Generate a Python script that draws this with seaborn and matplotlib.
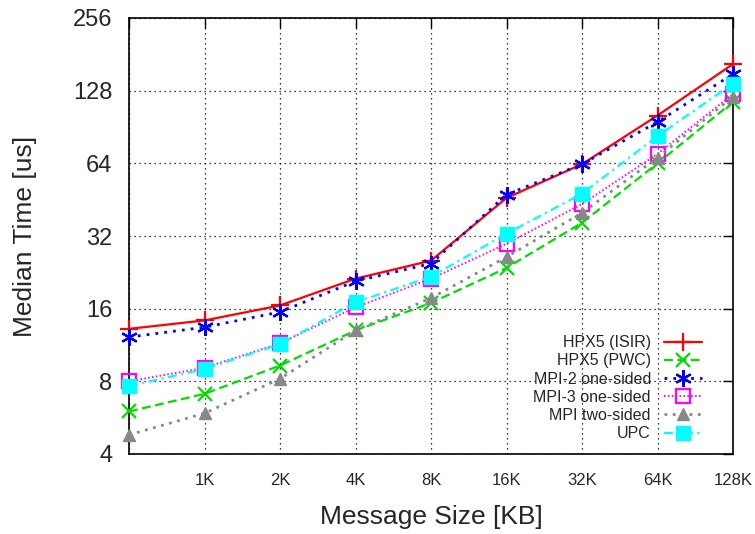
import matplotlib
matplotlib.use("Agg")
import matplotlib.pyplot as plt
import seaborn as sns
import pandas as pd
from matplotlib.ticker import FixedLocator, FixedFormatter, NullLocator

sizes = ["512", "1K", "2K", "4K", "8K", "16K", "32K", "64K", "128K"]
tick_labels = ["", "1K", "2K", "4K", "8K", "16K", "32K", "64K", "128K"]

hpx5_isir = [13.2, 14.3, 16.5, 21.3, 25.3, 46.0, 63.5, 101.0, 165.0]
hpx5_pwc = [6.0, 7.1, 9.3, 13.0, 16.9, 23.6, 36.3, 64.0, 115.0]
mpi2_one = [12.2, 13.4, 15.5, 20.8, 24.6, 47.5, 63.5, 95.0, 150.0]
mpi3_one = [8.0, 9.1, 11.5, 16.2, 21.3, 29.7, 43.4, 70.0, 124.0]
mpi_two = [4.8, 5.9, 8.2, 13.0, 17.7, 26.2, 39.9, 67.6, 121.0]
upc = [7.65, 9.0, 11.4, 17.0, 21.7, 32.7, 47.9, 83.0, 137.0]

series = {
    "HPX5 (ISIR)": hpx5_isir,
    "HPX5 (PWC)": hpx5_pwc,
    "MPI-2 one-sided": mpi2_one,
    "MPI-3 one-sided": mpi3_one,
    "MPI two-sided": mpi_two,
    "UPC": upc,
}

rows = []
for name, vals in series.items():
    for i, v in enumerate(vals):
        rows.append({"pos": i, "size": sizes[i], "time": v, "series": name})
df = pd.DataFrame(rows)

sns.set_theme(style="white")
plt.rcParams["font.family"] = ["Liberation Sans", "DejaVu Sans"]

fig = plt.figure(figsize=(7.55, 5.34), dpi=100)
ax = fig.add_axes([129 / 755, 1 - 454 / 534, (733 - 129) / 755, (454 - 18) / 534])

styles = {
    "HPX5 (ISIR)": dict(color="#ff0000", ls="-", marker="+", ms=13, mfc="none", mew=1.6, lw=1.6),
    "HPX5 (PWC)": dict(color="#00dd00", ls=(0, (4, 2)), marker="x", ms=10, mfc="none", mew=1.6, lw=1.6),
    "MPI-2 one-sided": dict(color="#0000ff", ls=(0, (1, 2.2)), marker=(6, 2, 0), ms=12, mew=1.6, lw=2.0),
    "MPI-3 one-sided": dict(color="#ff00ff", ls=(0, (0.8, 1.2)), marker="s", ms=9.5, mfc="none", mew=1.6, lw=1.4),
    "MPI two-sided": dict(color="#888888", ls=(0, (1, 2)), marker="^", ms=8.5, mfc="#888888", mew=1.0, lw=2.0),
    "UPC": dict(color="#00ffff", ls=(0, (4, 2, 1, 2)), marker="s", ms=9.5, mfc="#00ffff", mew=1.0, lw=1.6),
}

for name in series:
    st = styles[name]
    sub = df[df["series"] == name]
    sns.lineplot(data=sub, x="pos", y="time", ax=ax, label=name,
                 color=st["color"], linestyle=st["ls"], linewidth=st["lw"],
                 marker=st["marker"], markersize=st["ms"],
                 markerfacecolor=st.get("mfc", st["color"]),
                 markeredgecolor=st["color"], markeredgewidth=st["mew"],
                 clip_on=False, zorder=3)

ax.set_yscale("log", base=2)
ax.set_ylim(4, 256)
ax.set_xlim(0, 8)
yt = [4, 8, 16, 32, 64, 128, 256]
ax.yaxis.set_major_locator(FixedLocator(yt))
ax.yaxis.set_major_formatter(FixedFormatter([str(v) for v in yt]))
ax.yaxis.set_minor_locator(NullLocator())
ax.set_xticks(range(len(tick_labels)))
ax.set_xticklabels(tick_labels)

ax.grid(True, which="major", color="black", linestyle=(0, (1, 3)), linewidth=0.9)
for sp in ax.spines.values():
    sp.set_visible(True)
    sp.set_color("black")
    sp.set_linewidth(1.2)

ax.tick_params(axis="both", which="major", direction="in", length=7, width=1,
               top=True, right=True, color="black")
ax.tick_params(axis="y", labelsize=17, pad=12)
ax.tick_params(axis="x", labelsize=12, pad=14)

ax.set_xlabel("Message Size [KB]", fontsize=19)
ax.set_ylabel("Median Time [us]", fontsize=19)
ax.xaxis.set_label_coords(0.5, (454 - 517) / 436)
ax.xaxis.label.set_va("center")
ax.yaxis.set_label_coords((25 - 129) / 604, 0.5)
ax.yaxis.label.set_va("center")

leg = ax.legend(loc="lower right", bbox_to_anchor=(0.97, 0.0), frameon=False,
                markerfirst=False, fontsize=11.5, handlelength=2.4,
                labelspacing=0.2, borderaxespad=0.4, handletextpad=0.8)

fig.savefig("out.png", dpi=100)
